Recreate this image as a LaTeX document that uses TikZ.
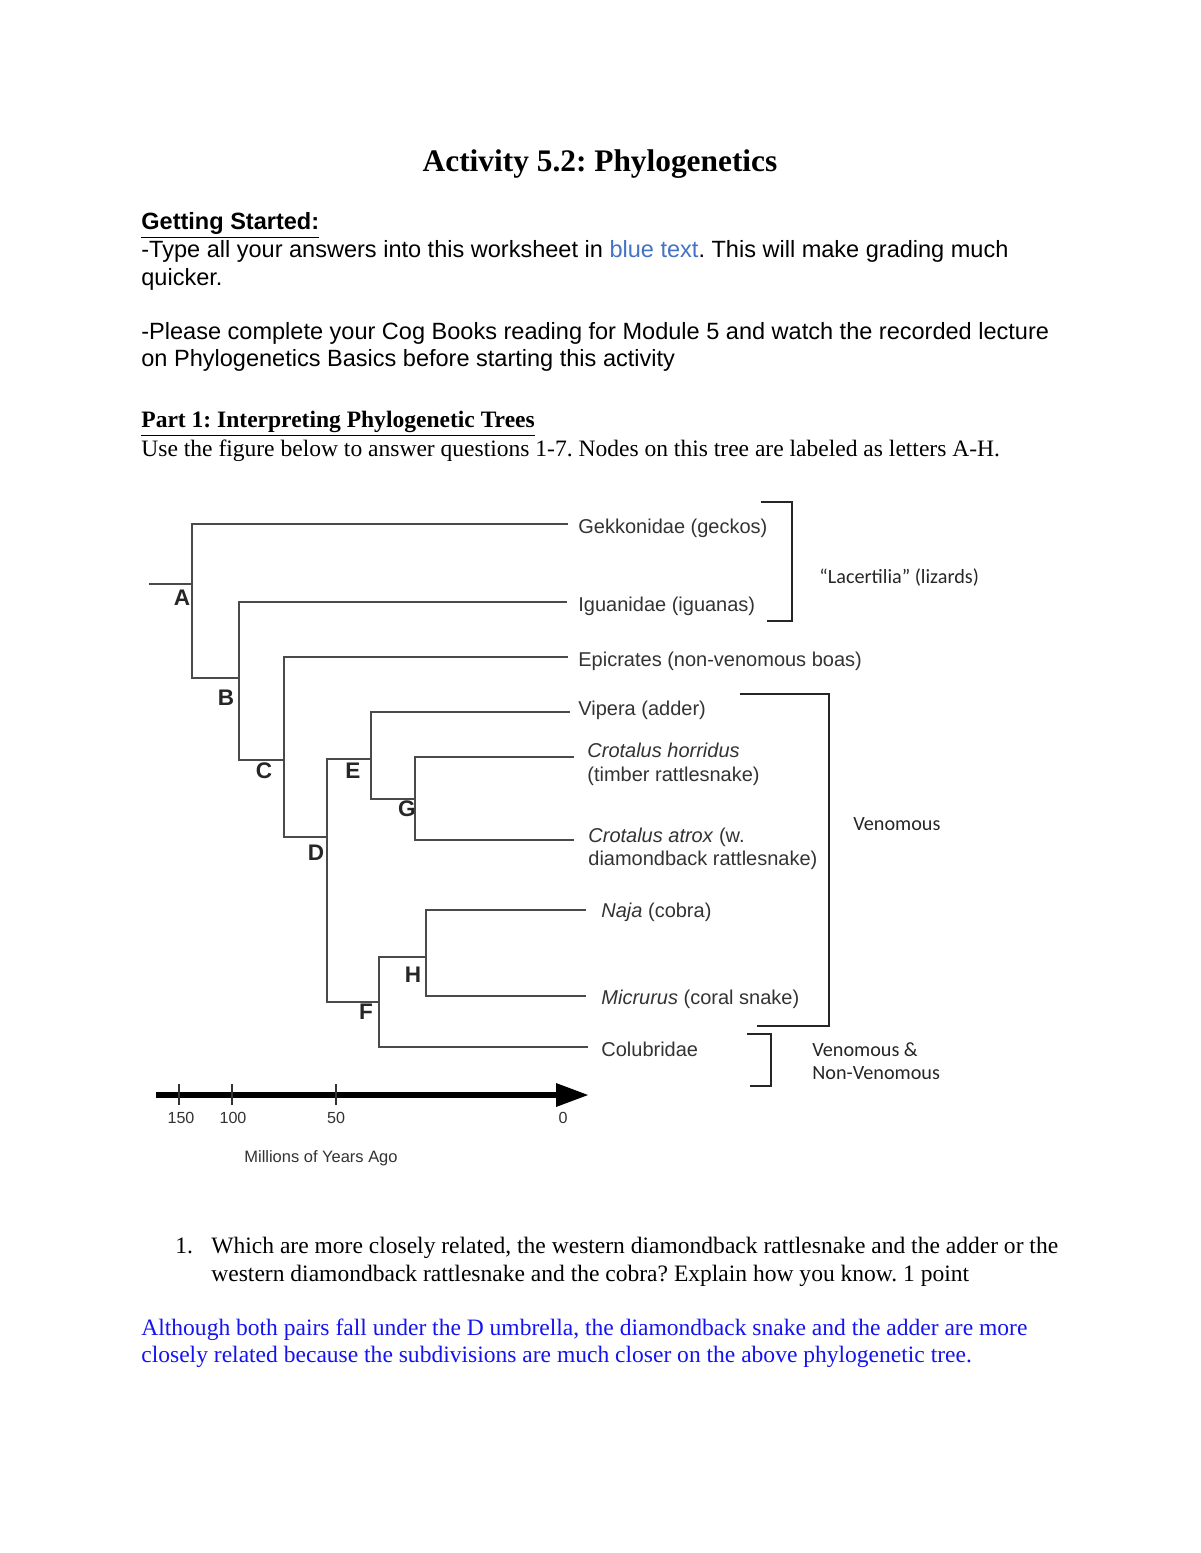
\documentclass[tikz,border=0pt]{standalone}
\usepackage{fontspec}
\setmainfont{Liberation Serif}
\newfontfamily\arialf{Liberation Sans}
\newfontfamily\calibf{Carlito}
\definecolor{taxgray}{HTML}{333333}
\definecolor{linegray}{HTML}{4A4A4A}
\definecolor{lightblue}{HTML}{4472C4}
\definecolor{ansblue}{HTML}{1414F0}
\frenchspacing
\begin{document}
\begin{tikzpicture}[x=0.51pt,y=-0.51pt,
  sanstxt/.style={anchor=base west,inner sep=0,font=\arialf\fontsize{12}{14}\selectfont},
  sertxt/.style={anchor=base west,inner sep=0,font=\fontsize{12}{14}\selectfont},
  taxon/.style={anchor=base west,inner sep=0,text=taxgray,font=\arialf\fontsize{10.2}{12}\selectfont},
  grp/.style={anchor=base west,inner sep=0,text=black!85,font=\calibf\fontsize{10.3}{12}\selectfont},
  nodelab/.style={inner sep=0,text=black!85,font=\arialf\bfseries\fontsize{11.5}{13}\selectfont},
  axlab/.style={anchor=base,inner sep=0,text=taxgray,font=\arialf\fontsize{8.2}{10}\selectfont},
  branch/.style={draw=linegray,line width=0.8pt},
  bracketline/.style={draw=black!85,line width=1.5pt},
  axisline/.style={draw=black,line width=2.6pt},
  tickline/.style={draw=black!80,line width=0.6pt}]
\useasboundingbox[fill=white] (0,0) rectangle (1200,1553);

% ---- header text ----
\node[anchor=base,inner sep=0,font=\bfseries\fontsize{16}{19}\selectfont] (title) at (600,172) {Activity 5.2: Phylogenetics};
\node[sanstxt,font=\arialf\bfseries\fontsize{12}{14}\selectfont] (gs) at (141,230) {\underline{Getting Started:}};
\node[sanstxt] (l1) at (141,257) {-Type all your answers into this worksheet in \textcolor{lightblue}{blue text}. This will make grading much};
\node[sanstxt] (l2) at (141,285) {quicker.};
\node[sanstxt] (l3) at (141,339) {-Please complete your Cog Books reading for Module 5 and watch the recorded lecture};
\node[sanstxt] (l4) at (141,366) {on Phylogenetics Basics before starting this activity};
\node[sertxt,font=\bfseries\fontsize{12}{14}\selectfont] (part) at (141,427) {\underline{Part 1: Interpreting Phylogenetic Trees}};
\node[sertxt] (use) at (141,456) {Use the figure below to answer questions 1-7. Nodes on this tree are labeled as letters A-H.};

% ---- tree junctions ----
\coordinate (root) at (149,584);
\coordinate (A) at (192,584);
\coordinate (B) at (239,678);
\coordinate (C) at (284,760);
\coordinate (D) at (327,837);
\coordinate (E) at (371,759);
\coordinate (G) at (415,799);
\coordinate (F) at (379,1002);
\coordinate (H) at (426,957);
% tips
\coordinate (tGek) at (568,524);
\coordinate (tIgu) at (567,602);
\coordinate (tEpi) at (568,657);
\coordinate (tVip) at (570,712);
\coordinate (tCho) at (574,757);
\coordinate (tCat) at (574,840);
\coordinate (tNaj) at (586,910);
\coordinate (tMic) at (586,996);
\coordinate (tCol) at (588,1047);

\draw[branch] (root) -- (A);
\draw[branch] (tGek) -- (tGek -| A) -- (B -| A) -- (B);
\draw[branch] (tIgu) -- (tIgu -| B) -- (C -| B) -- (C);
\draw[branch] (tEpi) -- (tEpi -| C) -- (D -| C) -- (D);
\draw[branch] (E) -- (E -| D) -- (F -| D) -- (F);
\draw[branch] (tVip) -- (tVip -| E) -- (G -| E) -- (G);
\draw[branch] (tCho) -- (tCho -| G) -- (tCat -| G) -- (tCat);
\draw[branch] (H) -- (H -| F) -- (tCol -| F) -- (tCol);
\draw[branch] (tNaj) -- (tNaj -| H) -- (tMic -| H) -- (tMic);

% node letters
\node[nodelab] (lA) at (182,598) {A};
\node[nodelab] (lB) at (226,698) {B};
\node[nodelab] (lC) at (264,771) {C};
\node[nodelab] (lD) at (316,853) {D};
\node[nodelab] (lE) at (353,771) {E};
\node[nodelab] (lG) at (407,809) {G};
\node[nodelab] (lH) at (413,975) {H};
\node[nodelab] (lF) at (366,1012) {F};

% taxon labels
\node[taxon] (nGek) at (578,533) {Gekkonidae (geckos)};
\node[taxon] (nIgu) at (578,611) {Iguanidae (iguanas)};
\node[taxon] (nEpi) at (578,666) {Epicrates (non-venomous boas)};
\node[taxon] (nVip) at (578,715) {Vipera (adder)};
\node[taxon] (nCho) at (587,757) {\itshape Crotalus horridus};
\node[taxon] (nCho2) at (587,781) {(timber rattlesnake)};
\node[taxon] (nCat) at (588,842) {\textit{Crotalus atrox} (w.};
\node[taxon] (nCat2) at (588,865) {diamondback rattlesnake)};
\node[taxon] (nNaj) at (601,917) {\textit{Naja} (cobra)};
\node[taxon] (nMic) at (601,1004) {\textit{Micrurus} (coral snake)};
\node[taxon] (nCol) at (601,1056) {Colubridae};

% brackets
\draw[bracketline] (761,502) -- (792,502) -- (792,621) -- (767,621);
\node[grp] (gLac) at (819,583) {“Lacertilia” (lizards)};
\draw[bracketline] (740,694) -- (829,694) -- (829,1026) -- (757,1026);
\node[grp] (gVen) at (853,830) {Venomous};
\draw[bracketline] (747,1034) -- (771,1034) -- (771,1086) -- (750,1086);
\node[grp] (gVn1) at (812,1056) {Venomous \&};
\node[grp] (gVn2) at (812,1079) {Non-Venomous};

% time axis
\coordinate (ax0) at (156,1095);
\coordinate (axb) at (558,1095);
\coordinate (axt) at (588,1095);
\draw[axisline] (ax0) -- (axb);
\fill[black] (axt) -- (556,1083) -- (556,1107) -- cycle;
\foreach \tx in {179,232,336}{\draw[tickline] (\tx,1084) -- (\tx,1105);}
\node[axlab] (a150) at (181,1123) {150};
\node[axlab] (a100) at (233,1123) {100};
\node[axlab] (a50) at (336,1123) {50};
\node[axlab] (a0) at (563,1123) {0};
\node[anchor=base west,inner sep=0,text=taxgray,font=\arialf\fontsize{8.4}{10}\selectfont] (myalab) at (244,1162) {Millions of Years Ago};

% question
\node[sertxt] (q1n) at (175,1253) {1.};
\node[sertxt] (q1a) at (211,1253) {Which are more closely related, the western diamondback rattlesnake and the adder or the};
\node[sertxt] (q1b) at (211,1281) {western diamondback rattlesnake and the cobra? Explain how you know. 1 point};
\node[sertxt,text=ansblue] (ans1) at (141,1335) {Although both pairs fall under the D umbrella, the diamondback snake and the adder are more};
\node[sertxt,text=ansblue] (ans2) at (141,1362) {closely related because the subdivisions are much closer on the above phylogenetic tree.};
\end{tikzpicture}
\end{document}
